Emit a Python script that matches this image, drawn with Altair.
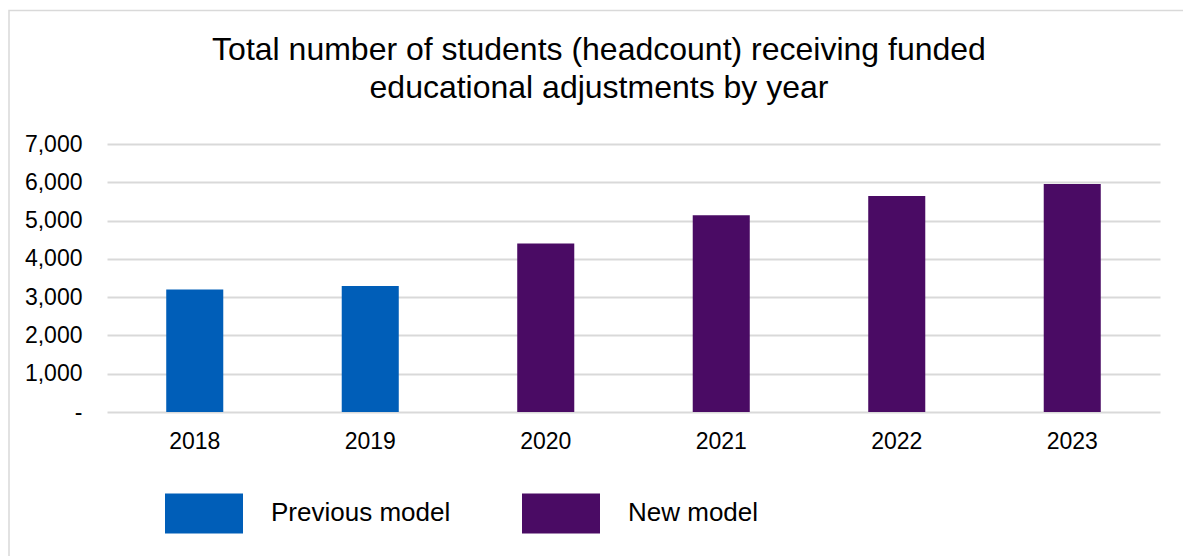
import altair as alt
import pandas as pd

years = ["2018", "2019", "2020", "2021", "2022", "2023"]
students = [3200, 3290, 4400, 5140, 5640, 5955]
models = ["Previous model", "Previous model", "New model", "New model", "New model", "New model"]
model_names = ["Previous model", "New model"]
model_colors = ["#005EB8", "#4A0B64"]
y_ticks = [0, 1000, 2000, 3000, 4000, 5000, 6000, 7000]
title_lines = ["Total number of students (headcount) receiving funded",
               "educational adjustments by year"]

df = pd.DataFrame({"year": years, "students": students, "model": models})

FONT = "Liberation Sans"

bars = alt.Chart(df).mark_bar().encode(
    x=alt.X(
        "year:N",
        sort=years,
        scale=alt.Scale(paddingInner=0.675, paddingOuter=0.3375),
        axis=alt.Axis(
            title=None, labelAngle=0, domain=False, ticks=False, tickSize=0,
            labelPadding=18, labelFontSize=23, labelColor="#000000", labelFont=FONT,
            grid=False,
        ),
    ),
    y=alt.Y(
        "students:Q",
        scale=alt.Scale(domain=[0, 7000], nice=False),
        axis=alt.Axis(
            title=None, values=y_ticks, domain=False, ticks=False, tickSize=0,
            labelPadding=25, labelFontSize=23, labelColor="#000000", labelFont=FONT,
            labelExpr="datum.value == 0 ? '-' : format(datum.value, ',')",
            grid=True, gridColor="#d9d9d9", gridWidth=2,
        ),
    ),
    color=alt.Color(
        "model:N",
        scale=alt.Scale(domain=model_names, range=model_colors),
        legend=alt.Legend(
            title=None, orient="none", legendX=58, legendY=330, direction="horizontal",
            symbolType="M-1,-0.513H1V0.513H-1Z", symbolSize=6084, symbolStrokeWidth=0,
            symbolOpacity=1, labelLimit=400,
            labelFontSize=26, labelFont=FONT, labelColor="#000000",
            labelOffset=28, columnPadding=71,
        ),
    ),
)

one = pd.DataFrame({"b": [0]})

border = alt.Chart(one).mark_rect(
    filled=False, stroke="#d9d9d9", strokeWidth=1.5
).encode(
    x=alt.value(-98), x2=alt.value(1300), y=alt.value(-133.5), y2=alt.value(700)
)

title = alt.Chart(one).mark_text(
    font=FONT, fontSize=32, color="#000000", align="center", baseline="alphabetic",
    lineHeight=38,
).encode(
    x=alt.value(492), y=alt.value(-84), text=alt.value(title_lines)
)

chart = alt.layer(border, title, bars).properties(
    width=1053,
    height=268,
    autosize=alt.AutoSizeParams(type="none"),
    padding={"left": 107, "top": 144, "right": 23, "bottom": 144},
).configure(font=FONT, background="#ffffff").configure_view(stroke=None)

chart.save("out.html", embed_options={"renderer": "svg", "actions": False})
